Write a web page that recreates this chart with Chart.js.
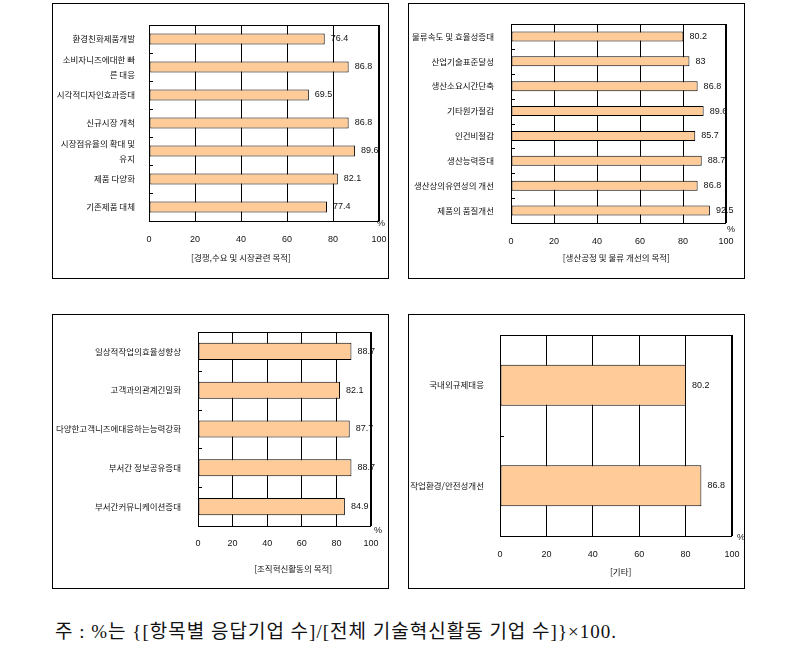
<!DOCTYPE html>
<html>
<head>
<meta charset="utf-8">
<script src="https://cdn.jsdelivr.net/npm/chart.js@4"></script>
<style>
  body { margin: 0; background: #fff; width: 791px; height: 667px; position: relative; overflow: hidden; }
  canvas { position: absolute; }
  #note { position: absolute; left: 55px; top: 616px; font: 19px "Liberation Serif", "Noto Sans CJK KR", serif; letter-spacing: 1px; color: #111; white-space: nowrap; }
</style>
</head>
<body>
<canvas id="c1" width="337" height="276" style="left:52px;top:3px"></canvas>
<canvas id="c2" width="337" height="276" style="left:408px;top:3px"></canvas>
<canvas id="c3" width="337" height="275" style="left:52px;top:314px"></canvas>
<canvas id="c4" width="337" height="275" style="left:408px;top:314px"></canvas>
<div id="note">주 : %는 {[항목별 응답기업 수]/[전체 기술혁신활동 기업 수]}×100.</div>
<script>
// x axis ticks, shared by all panels
const xTicks = [0, 20, 40, 60, 80, 100];

// panel 1
const market = ["환경친화제품개발", ["소비자니즈에대한 빠", "른 대응"], "시각적디자인효과증대", "신규시장 개척",
  ["시장점유율의 확대 및", "유지"], "제품 다양화", "기존제품 대체"];
const marketVals = [76.4, 86.8, 69.5, 86.8, 89.6, 82.1, 77.4];
const marketTitle = "[경쟁,수요 및 시장관련 목적]";

// panel 2
const process = ["물류속도 및 효율성증대", "산업기술표준달성", "생산소요시간단축", "기타원가절감", "인건비절감",
  "생산능력증대", "생산상의유연성의 개선", "제품의 품질개선"];
const processVals = [80.2, 83, 86.8, 89.6, 85.7, 88.7, 86.8, 92.5];
const processTitle = "[생산공정 및 물류 개선의 목적]";

// panel 3
const org = ["일상적작업의효율성향상", "고객과의관계긴밀화", "다양한고객니즈에대응하는능력강화", "부서간 정보공유증대",
  "부서간커뮤니케이션증대"];
const orgVals = [88.7, 82.1, 87.7, 88.7, 84.9];
const orgTitle = "[조직혁신활동의 목적]";

// panel 4
const etc = ["국내외규제대응", "작업환경/안전성개선"];
const etcVals = [80.2, 86.8];
const etcTitle = "[기타]";

const KR = '"Noto Sans CJK KR", sans-serif';
const NUM = '"Liberation Sans", Arial, sans-serif';

// draws frame, plot border, small category ticks, value labels, "%" and the axis title
const decor = {
  id: 'decor',
  afterDraw(chart) {
    const ctx = chart.ctx;
    const a = chart.chartArea;
    const lay = chart.options.plugins.decor;
    const xs = chart.scales.x, ys = chart.scales.y;
    ctx.save();
    ctx.strokeStyle = '#000';
    ctx.lineWidth = 1;
    ctx.strokeRect(0.5, 0.5, chart.width - 1, chart.height - 1);
    ctx.strokeRect(Math.round(a.left) + 0.5, Math.round(a.top) + 0.5,
      Math.round(a.right - a.left) - 1, Math.round(a.bottom - a.top));
    ctx.beginPath();
    for (let i = 0; i < ys.ticks.length - 1; i++) {
      const y = Math.round((ys.getPixelForValue(i) + ys.getPixelForValue(i + 1)) / 2) + 0.5;
      ctx.moveTo(a.left, y);
      ctx.lineTo(a.left + 4, y);
    }
    ctx.stroke();

    ctx.fillStyle = '#111';
    ctx.textBaseline = 'middle';
    ctx.font = '9px ' + NUM;
    const meta = chart.getDatasetMeta(0);
    meta.data.forEach((bar, i) => {
      ctx.fillText(String(chart.data.datasets[0].data[i]), bar.x + 6, bar.y);
    });
    ctx.textAlign = 'center';
    ctx.fillText('%', a.right + lay.pctDx, a.bottom + lay.pctDy);
    ctx.font = '8.5px ' + KR;
    ctx.fillText(lay.title, xs.getPixelForValue(lay.titleAt), lay.titleY);
    ctx.restore();
  }
};

function makeChart(id, labels, values, lay) {
  const cv = document.getElementById(id);
  const W = cv.width, H = cv.height;
  return new Chart(cv, {
    type: 'bar',
    data: {
      labels: labels,
      datasets: [{
        data: values,
        backgroundColor: '#FFCC99',
        borderColor: '#000',
        borderWidth: 1,
        borderSkipped: false,
        barPercentage: lay.bar,
        categoryPercentage: 1
      }]
    },
    options: {
      responsive: false,
      animation: false,
      indexAxis: 'y',
      layout: { padding: { left: 0, top: lay.top, right: W - lay.right, bottom: 0 } },
      plugins: {
        legend: { display: false },
        tooltip: { enabled: false },
        decor: lay
      },
      scales: {
        x: {
          min: 0,
          max: 100,
          afterBuildTicks: s => { s.ticks = xTicks.map(v => ({ value: v })); },
          ticks: { padding: lay.xPad, color: '#111', font: { family: NUM, size: 9 } },
          grid: { color: '#000', lineWidth: 1, drawTicks: false },
          border: { display: false },
          afterFit: s => { s.height = H - lay.bottom; s.paddingLeft = 0; s.paddingRight = 0; }
        },
        y: {
          ticks: { padding: lay.yPad, color: '#111', autoSkip: false, font: { family: KR, size: 8.5, lineHeight: '15px' } },
          grid: { display: false },
          border: { display: false },
          afterFit: s => { s.width = lay.left; s.paddingTop = 0; s.paddingBottom = 0; }
        }
      }
    },
    plugins: [decor]
  });
}

makeChart('c1', market, marketVals, { left: 97, right: 327, top: 22, bottom: 218, bar: 0.39, xPad: 13, yPad: 6,
  title: marketTitle, titleAt: 40, titleY: 255, pctDx: 2, pctDy: 3 });
makeChart('c2', process, processVals, { left: 103, right: 318, top: 21, bottom: 220, bar: 0.4, xPad: 13, yPad: 9,
  title: processTitle, titleAt: 49, titleY: 255, pctDx: 5, pctDy: 7 });
makeChart('c3', org, orgVals, { left: 146, right: 319, top: 18, bottom: 212, bar: 0.44, xPad: 12, yPad: 9,
  title: orgTitle, titleAt: 55, titleY: 255, pctDx: 7, pctDy: 5 });
makeChart('c4', etc, etcVals, { left: 92, right: 324, top: 21, bottom: 222, bar: 0.41, xPad: 13, yPad: 8,
  title: etcTitle, titleAt: 52, titleY: 258, pctDx: 9, pctDy: 2 });
</script>
</body>
</html>
